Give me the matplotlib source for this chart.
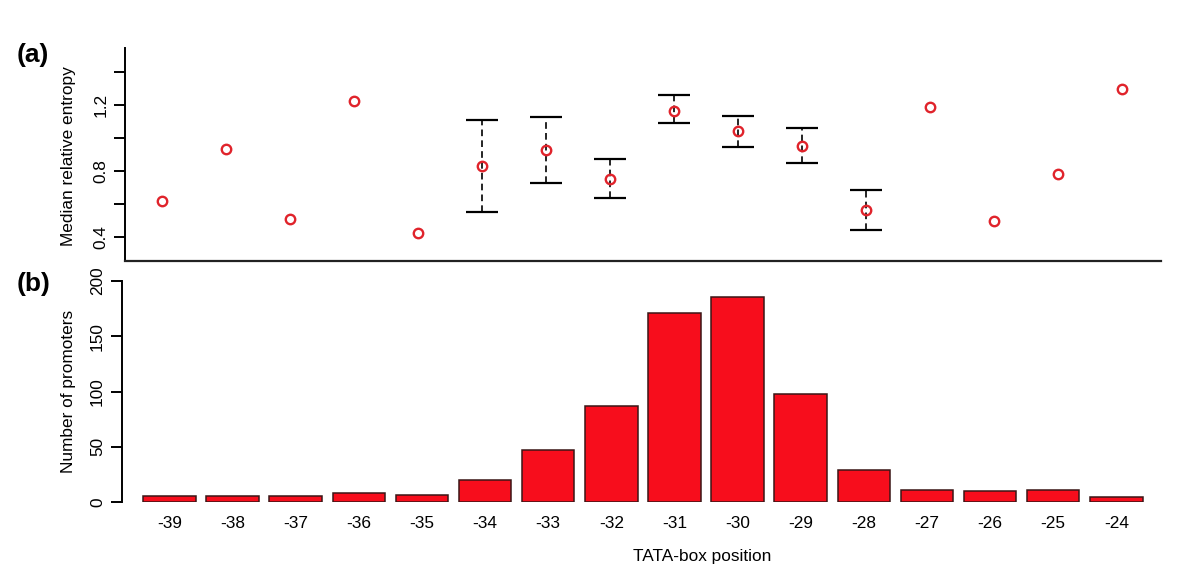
import matplotlib
matplotlib.use('Agg')
from matplotlib import pyplot as plt
import numpy as np

plt.rcParams['font.family'] = ['Liberation Sans', 'DejaVu Sans']

positions = ['-39', '-38', '-37', '-36', '-35', '-34', '-33', '-32',
             '-31', '-30', '-29', '-28', '-27', '-26', '-25', '-24']
median_entropy = [0.622, 0.935, 0.511, 1.227, 0.428, 0.834, 0.929, 0.755,
                  1.167, 1.042, 0.955, 0.566, 1.191, 0.499, 0.782, 1.300]
# error bars only for -34 .. -28
err_idx = [5, 6, 7, 8, 9, 10, 11]
err_upper = [1.111, 1.127, 0.875, 1.261, 1.137, 1.060, 0.687]
err_lower = [0.555, 0.731, 0.636, 1.091, 0.945, 0.848, 0.444]
n_promoters = [6, 6, 6, 8, 7, 20, 47, 87, 171, 185, 98, 29, 11, 10, 11, 5]

FS = 12.4


def fx(px):
    return px / 1200.0


def fy(py):
    return 1 - py / 583.0


def main():
    fig = plt.figure(figsize=(12, 5.83), dpi=100)

    # ---- panel (a)
    ax1 = fig.add_axes([fx(125), fy(261), fx(1161) - fx(125), fy(48) - fy(261)])
    xs = np.arange(1, 17)
    ex = xs[err_idx]
    ey = np.array(median_entropy)[err_idx]
    eb = ax1.errorbar(ex, ey,
                      yerr=[ey - np.array(err_lower), np.array(err_upper) - ey],
                      fmt='none', ecolor='black', elinewidth=1.2,
                      capsize=11.3, capthick=1.6, zorder=2)
    for lc in eb[2]:
        lc.set_linestyle((0, (4, 2.5)))
    ax1.plot(xs, median_entropy, 'o', mfc='none', mec='#e0232b',
             ms=6.8, mew=1.7, zorder=3)
    ax1.set_xlim(0.417, 16.605)
    ax1.set_ylim(0.2564, 1.5473)
    ax1.set_yticks([0.4, 0.6, 0.8, 1.0, 1.2, 1.4])
    ax1.set_yticklabels(['0.4', '', '0.8', '', '1.2', ''])
    ax1.set_xticks([])
    ax1.spines['top'].set_visible(False)
    ax1.spines['right'].set_visible(False)
    ax1.spines['left'].set_linewidth(1.4)
    ax1.spines['bottom'].set_linewidth(1.6)
    ax1.spines['bottom'].set_color('#222222')
    ax1.tick_params(axis='y', length=8, width=1.4, pad=4, labelsize=FS,
                    labelrotation=90)
    for t in ax1.get_yticklabels():
        t.set_va('center')

    # ---- panel (b)
    ax2 = fig.add_axes([fx(121.7), fy(502.3), fx(1161) - fx(121.7), fy(275) - fy(502.3)])
    bx = np.arange(len(n_promoters))
    ax2.bar(bx, n_promoters, width=0.832, color='#f70d1c', edgecolor='#3a1616',
            linewidth=1.1)
    ax2.set_xlim(-0.7575, 15.708)
    ax2.set_ylim(0, (502.3 - 275) / 1.108)
    ax2.set_yticks([0, 50, 100, 150, 200])
    ax2.spines['left'].set_bounds(0, 200)
    ax2.spines['left'].set_linewidth(1.4)
    for s in ['top', 'right', 'bottom']:
        ax2.spines[s].set_visible(False)
    ax2.tick_params(axis='y', length=8, width=1.4, pad=4, labelsize=FS,
                    labelrotation=90)
    for t in ax2.get_yticklabels():
        t.set_va('center')
    ax2.set_xticks(bx)
    ax2.set_xticklabels(positions)
    ax2.tick_params(axis='x', length=0, pad=10, labelsize=FS)

    fig.text(fx(68), fy(156.5), 'Median relative entropy', fontsize=FS,
             rotation=90, ha='center', va='center')
    fig.text(fx(68.5), fy(391), 'Number of promoters', fontsize=FS,
             rotation=90, ha='center', va='center')
    fig.text(fx(702), fy(557), 'TATA-box position', fontsize=FS,
             ha='center', va='center')
    fig.text(fx(17), fy(55), '(a)', fontsize=19, fontweight='bold',
             ha='left', va='center')
    fig.text(fx(17), fy(284), '(b)', fontsize=19, fontweight='bold',
             ha='left', va='center')

    fig.savefig('out.png', dpi=100)


if __name__ == '__main__':
    main()
